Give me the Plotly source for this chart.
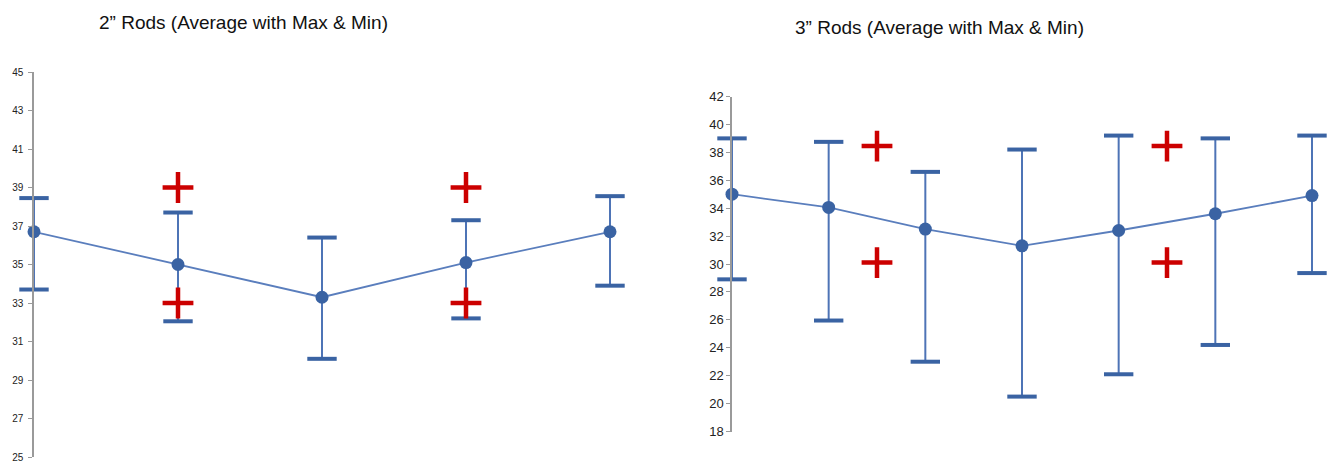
import plotly.graph_objects as go

# ---- data: 2" rods ----
cat2 = [1, 2, 3, 4, 5]
avg2 = [36.7, 35.0, 33.3, 35.1, 36.7]
max2 = [38.45, 37.7, 36.4, 37.3, 38.55]
min2 = [33.7, 32.05, 30.1, 32.2, 33.9]
spec_x2 = [2, 2, 4, 4]
spec_y2 = [39.0, 33.0, 39.0, 33.0]

# ---- data: 3" rods ----
cat3 = [1, 2, 3, 4, 5, 6, 7]
avg3 = [35.0, 34.05, 32.5, 31.3, 32.4, 33.6, 34.9]
max3 = [39.0, 38.75, 36.6, 38.2, 39.2, 39.0, 39.2]
min3 = [28.9, 25.95, 23.0, 20.5, 22.1, 24.2, 29.35]
spec_x3 = [2.5, 2.5, 5.5, 5.5]
spec_y3 = [38.45, 30.1, 38.45, 30.1]

BLUE = "#3A63A3"
LINE = "#5A7EBD"
STEM = "#4E74B6"
RED = "#CC0000"

fig = go.Figure()

def add_panel(x, avg, mx, mn, sx, sy, xa, ya):
    fig.add_trace(go.Scatter(
        x=x, y=avg, mode="lines+markers", xaxis=xa, yaxis=ya,
        line=dict(color=LINE, width=1.8),
        marker=dict(color=BLUE, size=13),
        error_y=dict(type="data", symmetric=False,
                     array=[a - b for a, b in zip(mx, avg)],
                     arrayminus=[b - c for b, c in zip(avg, mn)],
                     color=STEM, thickness=2, width=0),
        cliponaxis=False, showlegend=False))
    fig.add_trace(go.Scatter(
        x=x + x, y=mx + mn, mode="markers", xaxis=xa, yaxis=ya,
        marker=dict(symbol="line-ew", size=21, line=dict(color=BLUE, width=4)),
        cliponaxis=False, showlegend=False))
    fig.add_trace(go.Scatter(
        x=sx, y=sy, mode="markers", xaxis=xa, yaxis=ya,
        marker=dict(symbol="cross-thin", size=22, line=dict(color=RED, width=4.5)),
        cliponaxis=False, showlegend=False))

add_panel(cat2, avg2, max2, min2, spec_x2, spec_y2, "x", "y")
add_panel(cat3, avg3, max3, min3, spec_x3, spec_y3, "x2", "y2")

H = 464
W = 1329
FONT = "Liberation Sans, Arial"
yax = dict(showgrid=False, zeroline=False, showline=True, linecolor="#9a9a9a",
           linewidth=1.5, ticks="outside", ticklen=4, tickcolor="#9a9a9a",
           automargin=False)

# left panel: category 1 at x=34px, category 5 at x=610px (144 px per category)
# right panel: category 1 at x=732px, category 7 at x=1312px (~96.7 px per category)
fig.update_layout(
    width=W, height=H, margin=dict(l=0, r=0, t=0, b=0, autoexpand=False),
    plot_bgcolor="white", paper_bgcolor="white",
    xaxis=dict(domain=[34 / W, 624 / W], range=[1, 5 + 14 / 144], visible=False, automargin=False),
    xaxis2=dict(domain=[732 / W, 1326 / W], range=[1, 7 + 14 / 96.67], visible=False, automargin=False),
    yaxis=dict(domain=[(H - 457) / H, (H - 72) / H], range=[25, 45],
               tickvals=list(range(25, 46, 2)), anchor="x", ticklabelstandoff=3,
               tickfont=dict(family=FONT, color="#222222", size=10), **yax),
    yaxis2=dict(domain=[(H - 431.5) / H, (H - 96.5) / H], range=[18, 42],
                tickvals=list(range(18, 43, 2)), anchor="x2",
                tickfont=dict(family=FONT, color="#222222", size=13), **yax),
    annotations=[
        dict(text="2” Rods (Average with Max & Min)", x=243 / W, y=(H - 22) / H,
             xref="paper", yref="paper", showarrow=False, xanchor="center", yanchor="middle",
             font=dict(family=FONT, size=19, color="#111111")),
        dict(text="3” Rods (Average with Max & Min)", x=939 / W, y=(H - 28) / H,
             xref="paper", yref="paper", showarrow=False, xanchor="center", yanchor="middle",
             font=dict(family=FONT, size=19, color="#111111")),
    ],
)

fig.write_html("out.html", config={"displayModeBar": False},
               post_script="document.body.style.margin='0';")
